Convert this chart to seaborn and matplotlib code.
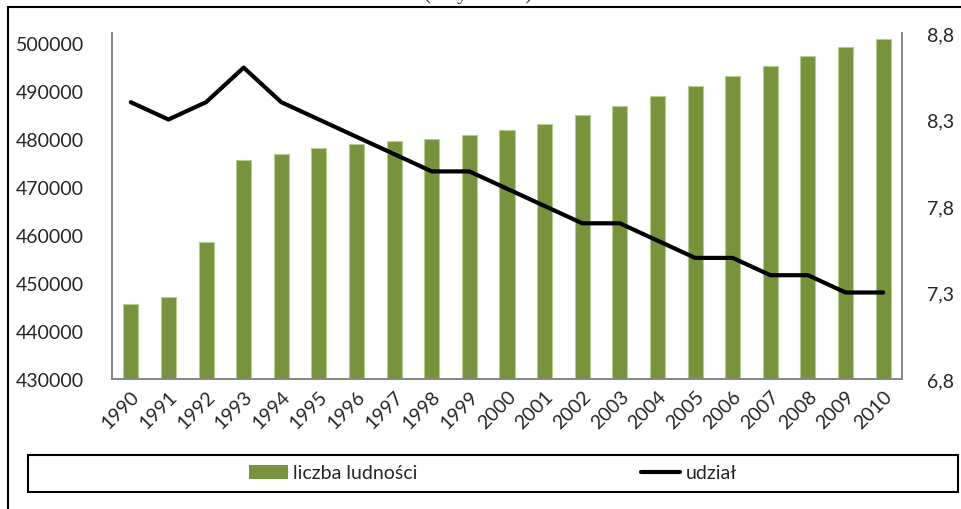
import numpy as np
import matplotlib
matplotlib.use("Agg")
import matplotlib.pyplot as plt
import seaborn as sns
from matplotlib.patches import Rectangle, Patch
from matplotlib.lines import Line2D
from matplotlib.ticker import FuncFormatter, FixedLocator

# dane
years = [str(y) for y in range(1990, 2011)]
liczba_ludnosci = [445700, 447100, 458500, 475600, 476900, 478100, 478900, 479500,
                   480000, 480700, 481800, 483100, 484900, 486800, 488900, 491000,
                   493100, 495200, 497200, 499100, 500800]
udzial = [8.4, 8.3, 8.4, 8.6, 8.4, 8.3, 8.2, 8.1, 8.0, 8.0, 7.9, 7.8, 7.7, 7.7,
          7.6, 7.5, 7.5, 7.4, 7.4, 7.3, 7.3]
left_ticks = [430000, 440000, 450000, 460000, 470000, 480000, 490000, 500000]
right_ticks = [6.8, 7.3, 7.8, 8.3, 8.8]

sns.set_style("white")
plt.rcParams["font.family"] = ["Lato", "DejaVu Sans"]

bar_color = "#77933C"
axis_color = "#868686"
fs = 14

fig = plt.figure(figsize=(9.61, 5.10), dpi=100)
ax = fig.add_axes([112 / 961, 1 - 380 / 510, 790 / 961, 346 / 510])

sns.barplot(x=years, y=liczba_ludnosci, color=bar_color, width=0.4, saturation=1,
            edgecolor="#b7cd8f", linewidth=0.8, ax=ax)
ax.set_ylim(430000, 502000)
ax.set_xlim(-0.5, len(years) - 0.5)
ax.set_yticks(left_ticks)
ax.set_yticklabels([str(t) for t in left_ticks], fontsize=fs)
ax.set_xlabel("")
ax.set_ylabel("")

ax.tick_params(axis="y", length=0, pad=20)
ax.tick_params(axis="x", which="major", length=0, pad=6)
ax.xaxis.set_minor_locator(FixedLocator(np.arange(-0.5, len(years), 1)))
ax.tick_params(axis="x", which="minor", length=5, width=1, color=axis_color, direction="out")
for lbl in ax.get_xticklabels():
    lbl.set_rotation(45)
    lbl.set_ha("right")
    lbl.set_rotation_mode("anchor")
    lbl.set_fontsize(fs)

for side in ["left", "bottom", "right"]:
    ax.spines[side].set_color(axis_color)
    ax.spines[side].set_linewidth(1.2)
ax.spines["top"].set_visible(False)

ax2 = ax.twinx()
sns.lineplot(x=np.arange(len(years)), y=udzial, color="black", linewidth=3, ax=ax2)
ax2.set_ylim(6.8, 8.8)
ax2.set_yticks(right_ticks)
ax2.yaxis.set_major_formatter(FuncFormatter(lambda v, p: f"{v:.1f}".replace(".", ",")))
ax2.tick_params(axis="y", length=0, pad=18, labelsize=fs)
for side in ["left", "bottom", "right"]:
    ax2.spines[side].set_color(axis_color)
    ax2.spines[side].set_linewidth(1.2)
ax2.spines["top"].set_visible(False)

# ramka wykresu i tytul (uciety u gory)
fig.patches.append(Rectangle((8 / 961, -0.1), 1.0, 1.1 - 8 / 510, transform=fig.transFigure,
                             fill=False, edgecolor="black", linewidth=1.5))
fig.text(478 / 961, 1 + 6 / 510, "(w tys. osób)", ha="center", va="center",
         fontsize=15, family=["Liberation Serif", "DejaVu Serif"])

# legenda
fig.patches.append(Rectangle((28 / 961, 1 - 493 / 510), 930 / 961, 37 / 510,
                             transform=fig.transFigure, fill=False,
                             edgecolor="black", linewidth=1.5))
handles = [Patch(facecolor=bar_color, edgecolor="none"),
           Line2D([0], [0], color="black", linewidth=3)]
fig.legend(handles, ["liczba ludności", "udział"], loc="center",
           bbox_to_anchor=(493 / 961, 1 - 474 / 510), ncol=2, frameon=False,
           fontsize=fs, handlelength=2.0, handletextpad=0.3, columnspacing=11.5)

fig.savefig("out.png", dpi=100)
plt.close()
